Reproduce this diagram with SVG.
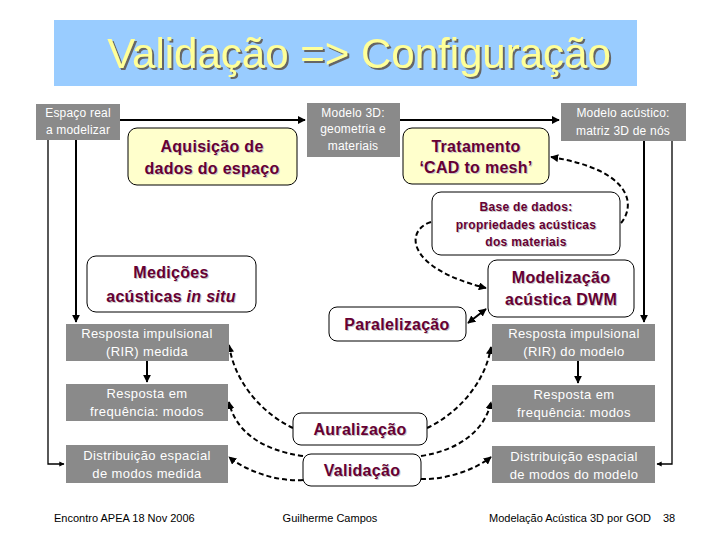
<svg xmlns="http://www.w3.org/2000/svg" width="720" height="540" viewBox="0 0 720 540">
<defs>
<style>
.gbox{fill:#8a8a8a}
.gt{font-family:"Liberation Sans",Arial,sans-serif;font-size:13px;fill:#fff;text-anchor:middle;letter-spacing:0.4px}
.gs{font-family:"Liberation Sans",Arial,sans-serif;font-size:12px;fill:#fff;text-anchor:middle;letter-spacing:0.2px}
.ybox{fill:#ffffcc;stroke:#000;stroke-width:1}
.wbox{fill:#fff;stroke:#000;stroke-width:1}
.mt{font-family:"Liberation Sans",Arial,sans-serif;font-weight:bold;font-size:16px;fill:#660033;text-anchor:middle;letter-spacing:0.3px}
.ms{font-family:"Liberation Sans",Arial,sans-serif;font-weight:bold;font-size:12px;fill:#660033;text-anchor:middle;letter-spacing:0.3px}
.sh{fill:#c8c8c8}
.ft{font-family:"Liberation Sans",Arial,sans-serif;font-size:11px;fill:#000}
.solid{fill:none;stroke:#000;stroke-width:2}
.thin{fill:none;stroke:#000;stroke-width:1.3}
.dash{fill:none;stroke:#000;stroke-width:2;stroke-dasharray:5,3}
</style>
<filter id="tsh" x="-5%" y="-20%" width="110%" height="140%">
<feOffset in="SourceAlpha" dx="2" dy="2" result="o"/>
<feFlood flood-color="#666"/>
<feComposite in2="o" operator="in" result="s"/>
<feMerge><feMergeNode in="s"/><feMergeNode in="SourceGraphic"/></feMerge>
</filter>
<marker id="ah" viewBox="0 0 10 10" refX="9" refY="5" markerWidth="4" markerHeight="4" orient="auto-start-reverse"><path d="M0,0 L10,5 L0,10 z" fill="#000"/></marker>
</defs>
<rect width="720" height="540" fill="#fff"/>
<g id="title">
<rect x="54" y="20" width="583" height="66" fill="#99ccff"/>
<text x="359" y="68" font-family="'Liberation Sans',Arial,sans-serif" font-size="42" text-anchor="middle" fill="#ffff99" filter="url(#tsh)">Validação =&gt; Configuração</text>
</g>
<g id="connectors">
<path class="solid" d="M120,120 H305" marker-end="url(#ah)"/>
<path class="solid" d="M400,120 H559" marker-end="url(#ah)"/>
<path class="solid" d="M76,140 V322" marker-end="url(#ah)"/>
<path class="thin" d="M48,140 V464 H64" marker-end="url(#ah)"/>
<path class="solid" d="M147,361 V382" marker-end="url(#ah)"/>
<path class="solid" d="M644,141 V322" marker-end="url(#ah)"/>
<path class="thin" d="M672,141 V464 H657" marker-end="url(#ah)"/>
<path class="solid" d="M578,361 V383" marker-end="url(#ah)"/>
<path class="dash" d="M621,223 C636,205 632,170 551,157" marker-end="url(#ah)"/>
<path class="dash" d="M431,222 C405,230 405,268 486,288" marker-end="url(#ah)"/>
<path class="solid" d="M468,323 L486,309" marker-start="url(#ah)" marker-end="url(#ah)"/>
<path class="dash" d="M293,428 C265,415 235,385 229,345" marker-end="url(#ah)"/>
<path class="dash" d="M303,456 C260,450 235,430 229,402" marker-end="url(#ah)"/>
<path class="dash" d="M303,480 C275,482 245,470 229,457" marker-end="url(#ah)"/>
<path class="dash" d="M427,428 C455,415 485,385 491,347" marker-end="url(#ah)"/>
<path class="dash" d="M421,456 C460,450 485,430 491,402" marker-end="url(#ah)"/>
<path class="dash" d="M421,479 C445,480 475,470 491,457" marker-end="url(#ah)"/>
</g>
<g id="espaco">
<rect class="gbox" x="36" y="104" width="84" height="36"/>
<text class="gs" x="78" y="117">Espaço real</text>
<text class="gs" x="78" y="134">a modelizar</text>
</g>
<g id="modelo3d">
<rect class="gbox" x="307" y="103" width="93" height="54"/>
<text class="gs" x="353" y="117">Modelo 3D:</text>
<text class="gs" x="353" y="133">geometria e</text>
<text class="gs" x="353" y="150">materiais</text>
</g>
<g id="modeloac">
<rect class="gbox" x="561" y="103" width="125" height="38"/>
<text class="gs" x="623" y="117">Modelo acústico:</text>
<text class="gs" x="623" y="135">matriz 3D de nós</text>
</g>
<g id="aquisicao">
<rect class="ybox" x="128" y="128" width="169" height="57" rx="9"/>
<text class="mt sh" x="213" y="153">Aquisição de</text>
<text class="mt sh" x="213" y="175">dados do espaço</text>
<text class="mt" x="212" y="152">Aquisição de</text>
<text class="mt" x="212" y="174">dados do espaço</text>
</g>
<g id="tratamento">
<rect class="ybox" x="403" y="128" width="146" height="56" rx="9"/>
<text class="mt sh" x="477" y="153">Tratamento</text>
<text class="mt sh" x="477" y="174">‘CAD to mesh’</text>
<text class="mt" x="476" y="152">Tratamento</text>
<text class="mt" x="476" y="173">‘CAD to mesh’</text>
</g>
<g id="basedados">
<rect class="wbox" x="432" y="192" width="188" height="63" rx="9"/>
<text class="ms sh" x="527" y="212">Base de dados:</text>
<text class="ms sh" x="527" y="230">propriedades acústicas</text>
<text class="ms sh" x="527" y="247">dos materiais</text>
<text class="ms" x="526" y="211">Base de dados:</text>
<text class="ms" x="526" y="229">propriedades acústicas</text>
<text class="ms" x="526" y="246">dos materiais</text>
</g>
<g id="modelizacao">
<rect class="wbox" x="488" y="260" width="146" height="57" rx="9"/>
<text class="mt sh" x="562" y="284">Modelização</text>
<text class="mt sh" x="562" y="306">acústica DWM</text>
<text class="mt" x="561" y="283">Modelização</text>
<text class="mt" x="561" y="305">acústica DWM</text>
</g>
<g id="medicoes">
<rect class="wbox" x="87" y="256" width="169" height="56" rx="9"/>
<text class="mt sh" x="172" y="279">Medições</text>
<text class="mt sh" x="172" y="303">acústicas <tspan font-style="italic">in situ</tspan></text>
<text class="mt" x="171" y="278">Medições</text>
<text class="mt" x="171" y="302">acústicas <tspan font-style="italic">in situ</tspan></text>
</g>
<g id="paralelizacao">
<rect class="wbox" x="329" y="307" width="137" height="34" rx="8"/>
<text class="mt sh" x="398" y="331">Paralelização</text>
<text class="mt" x="397" y="330">Paralelização</text>
</g>
<g id="auralizacao">
<rect class="wbox" x="293" y="413" width="134" height="32" rx="8"/>
<text class="mt sh" x="361" y="436">Auralização</text>
<text class="mt" x="360" y="435">Auralização</text>
</g>
<g id="validacao">
<rect class="wbox" x="303" y="454" width="118" height="32" rx="8"/>
<text class="mt sh" x="363" y="477">Validação</text>
<text class="mt" x="362" y="476">Validação</text>
</g>
<g id="rir-medida">
<rect class="gbox" x="66" y="324" width="163" height="37"/>
<text class="gt" x="147" y="338">Resposta impulsional</text>
<text class="gt" x="147" y="356">(RIR) medida</text>
</g>
<g id="freq-medida">
<rect class="gbox" x="66" y="384" width="162" height="37"/>
<text class="gt" x="147" y="398">Resposta em</text>
<text class="gt" x="147" y="416">frequência: modos</text>
</g>
<g id="dist-medida">
<rect class="gbox" x="66" y="445" width="162" height="38"/>
<text class="gt" x="147" y="460">Distribuição espacial</text>
<text class="gt" x="147" y="478">de modos medida</text>
</g>
<g id="rir-modelo">
<rect class="gbox" x="492" y="324" width="163" height="37"/>
<text class="gt" x="574" y="338">Resposta impulsional</text>
<text class="gt" x="574" y="356">(RIR) do modelo</text>
</g>
<g id="freq-modelo">
<rect class="gbox" x="492" y="385" width="163" height="37"/>
<text class="gt" x="574" y="399">Resposta em</text>
<text class="gt" x="574" y="417">frequência: modos</text>
</g>
<g id="dist-modelo">
<rect class="gbox" x="492" y="446" width="163" height="37"/>
<text class="gt" x="574" y="461">Distribuição espacial</text>
<text class="gt" x="574" y="479">de modos do modelo</text>
</g>
<g id="footer">
<text class="ft" x="54" y="522">Encontro APEA 18 Nov 2006</text>
<text class="ft" x="330" y="522" text-anchor="middle">Guilherme Campos</text>
<text class="ft" x="489" y="522">Modelação Acústica 3D por GOD</text>
<text class="ft" x="663" y="522">38</text>
</g>
</svg>
